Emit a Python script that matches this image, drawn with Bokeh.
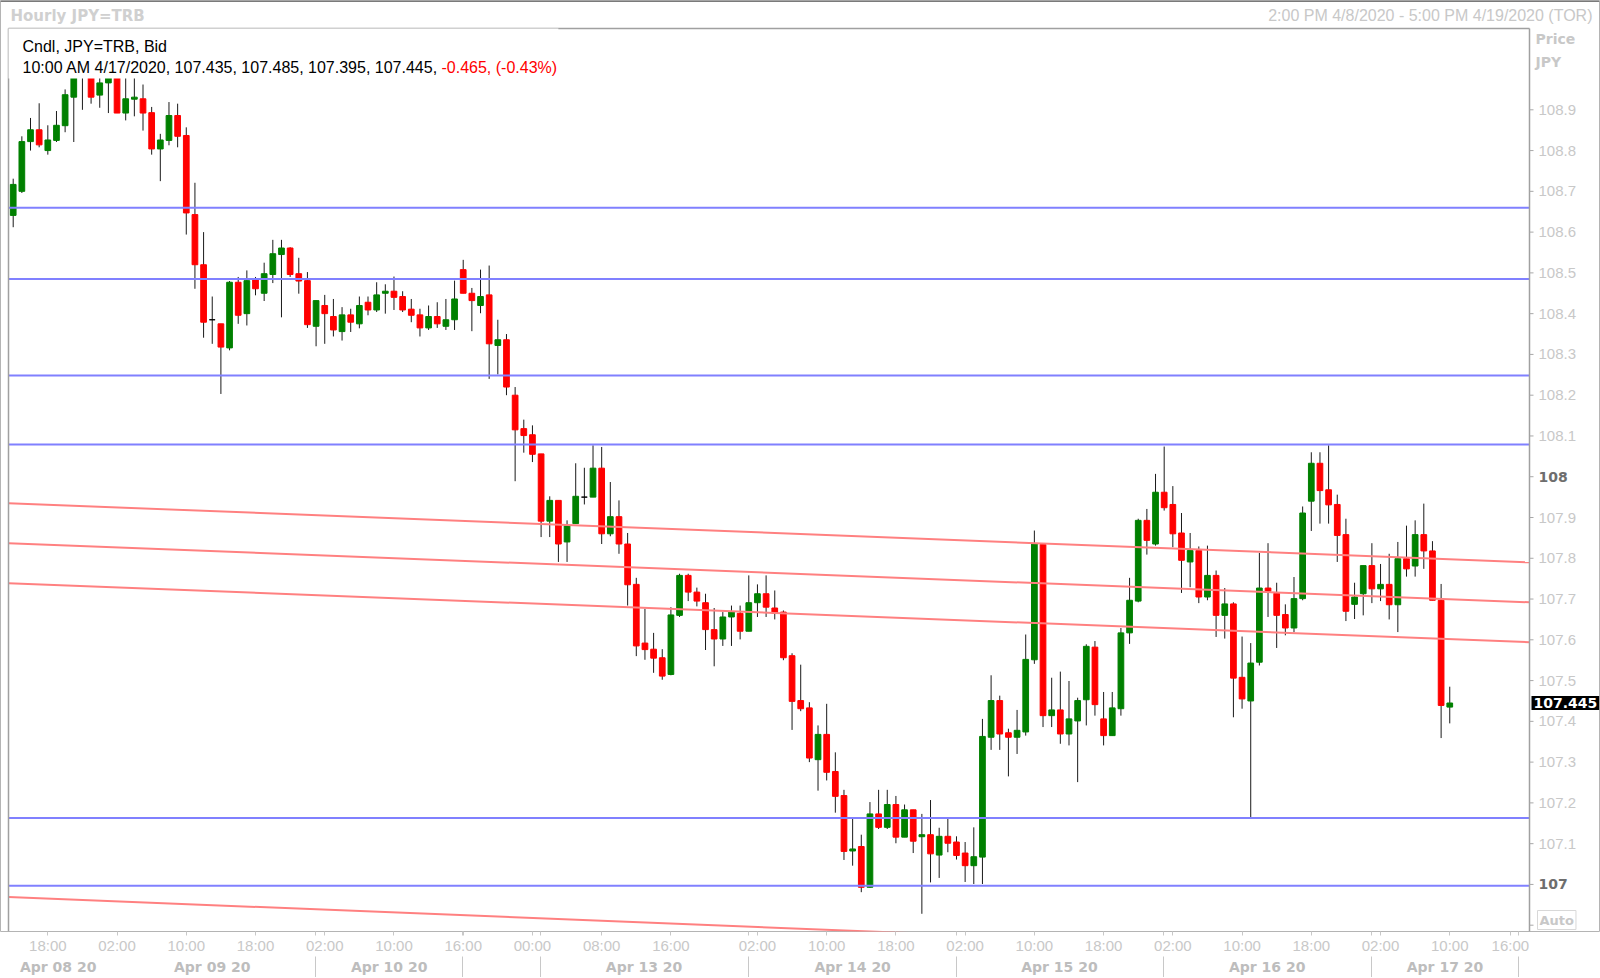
from bokeh.plotting import figure
from bokeh.models import Range1d, LinearAxis, FixedTicker, Label, BoxAnnotation, ColumnDataSource
from bokeh.core.properties import value
from bokeh.embed import file_html
from bokeh.resources import INLINE

# ---------------- data (hourly JPY=TRB candles, 14:00 Apr 08 .. 10:00 Apr 17) ----------------
opens = [108.641, 108.700, 108.822, 108.851, 108.800, 108.825, 108.861, 108.931, 109.000, 109.020,
         108.936, 108.966, 108.990, 108.892, 108.926, 108.927, 108.893, 108.804, 108.825, 108.886,
         108.837, 108.643, 108.520, 108.385, 108.375, 108.316, 108.477, 108.400, 108.483, 108.450,
         108.496, 108.545, 108.561, 108.498, 108.481, 108.369, 108.420, 108.393, 108.356, 108.397,
         108.375, 108.428, 108.409, 108.450, 108.455, 108.442, 108.411, 108.397, 108.365, 108.393,
         108.369, 108.385, 108.508, 108.450, 108.420, 108.446, 108.322, 108.336, 108.200, 108.118,
         108.103, 108.056, 107.891, 107.942, 107.840, 107.885, 107.950, 107.950, 108.021, 107.860,
         107.902, 107.835, 107.736, 107.592, 107.577, 107.556, 107.515, 107.660, 107.758, 107.717,
         107.691, 107.625, 107.602, 107.656, 107.665, 107.621, 107.691, 107.713, 107.678, 107.668,
         107.561, 107.451, 107.433, 107.306, 107.368, 107.277, 107.218, 107.082, 107.093, 106.993,
         107.173, 107.140, 107.196, 107.116, 107.183, 107.117, 107.122, 107.072, 107.118, 107.104,
         107.077, 107.046, 107.067, 107.361, 107.451, 107.372, 107.361, 107.374, 107.551, 107.834,
         107.414, 107.428, 107.369, 107.401, 107.453, 107.582, 107.406, 107.365, 107.431, 107.617,
         107.695, 107.893, 107.835, 107.962, 107.932, 107.862, 107.791, 107.819, 107.705, 107.758,
         107.660, 107.688, 107.508, 107.450, 107.545, 107.727, 107.714, 107.662, 107.629, 107.701,
         107.940, 108.033, 107.968, 107.932, 107.858, 107.687, 107.713, 107.782, 107.725, 107.736,
         107.686, 107.799, 107.781, 107.858, 107.818, 107.697, 107.435]
highs = [108.731, 108.835, 108.880, 108.916, 108.862, 108.897, 108.950, 109.030, 109.060, 109.050,
         108.980, 109.030, 109.010, 108.980, 108.980, 108.962, 108.907, 108.841, 108.919, 108.915,
         108.857, 108.721, 108.600, 108.442, 108.375, 108.480, 108.490, 108.506, 108.490, 108.525,
         108.581, 108.581, 108.563, 108.537, 108.502, 108.432, 108.446, 108.436, 108.416, 108.412,
         108.442, 108.442, 108.477, 108.472, 108.491, 108.455, 108.436, 108.412, 108.420, 108.428,
         108.436, 108.481, 108.532, 108.463, 108.508, 108.518, 108.385, 108.350, 108.220, 108.140,
         108.126, 108.056, 107.952, 107.942, 107.893, 108.033, 108.022, 108.077, 108.073, 107.987,
         107.942, 107.862, 107.752, 107.676, 107.617, 107.577, 107.680, 107.762, 107.762, 107.728,
         107.713, 107.678, 107.668, 107.684, 107.684, 107.758, 107.736, 107.758, 107.721, 107.672,
         107.567, 107.539, 107.447, 107.390, 107.443, 107.324, 107.232, 107.161, 107.122, 107.202,
         107.232, 107.232, 107.217, 107.196, 107.183, 107.173, 107.207, 107.139, 107.161, 107.118,
         107.104, 107.140, 107.406, 107.513, 107.463, 107.382, 107.428, 107.613, 107.868, 107.834,
         107.507, 107.522, 107.499, 107.458, 107.589, 107.597, 107.472, 107.472, 107.629, 107.752,
         107.897, 107.921, 108.007, 108.074, 107.977, 107.911, 107.862, 107.829, 107.831, 107.770,
         107.727, 107.692, 107.608, 107.592, 107.813, 107.837, 107.740, 107.687, 107.754, 107.927,
         108.060, 108.060, 108.077, 107.956, 107.897, 107.740, 107.782, 107.837, 107.786, 107.811,
         107.840, 107.880, 107.893, 107.934, 107.842, 107.737, 107.485]
lows = [108.612, 108.696, 108.800, 108.808, 108.790, 108.821, 108.845, 108.821, 108.900, 108.915,
        108.905, 108.892, 108.892, 108.874, 108.884, 108.849, 108.790, 108.725, 108.813, 108.808,
        108.594, 108.461, 108.341, 108.326, 108.203, 108.310, 108.375, 108.371, 108.445, 108.431,
        108.475, 108.391, 108.490, 108.449, 108.365, 108.320, 108.326, 108.344, 108.334, 108.355,
        108.364, 108.396, 108.404, 108.400, 108.409, 108.404, 108.379, 108.344, 108.360, 108.365,
        108.360, 108.360, 108.450, 108.357, 108.401, 108.240, 108.251, 108.200, 107.989, 108.059,
        108.036, 107.852, 107.852, 107.791, 107.791, 107.885, 107.932, 107.950, 107.835, 107.854,
        107.811, 107.684, 107.560, 107.551, 107.519, 107.502, 107.513, 107.656, 107.695, 107.682,
        107.575, 107.535, 107.585, 107.585, 107.601, 107.621, 107.656, 107.656, 107.650, 107.550,
        107.379, 107.425, 107.300, 107.230, 107.255, 107.176, 107.060, 107.046, 106.981, 106.992,
        107.136, 107.136, 107.101, 107.116, 107.077, 106.928, 107.005, 107.016, 107.079, 107.061,
        107.006, 107.001, 107.001, 107.330, 107.330, 107.265, 107.320, 107.365, 107.541, 107.386,
        107.386, 107.345, 107.341, 107.251, 107.390, 107.414, 107.341, 107.365, 107.414, 107.590,
        107.692, 107.809, 107.831, 107.917, 107.827, 107.715, 107.729, 107.690, 107.697, 107.607,
        107.603, 107.410, 107.431, 107.165, 107.537, 107.656, 107.580, 107.611, 107.619, 107.697,
        107.867, 107.885, 107.885, 107.791, 107.646, 107.651, 107.660, 107.690, 107.695, 107.650,
        107.619, 107.755, 107.755, 107.774, 107.697, 107.359, 107.395]
closes = [108.717, 108.822, 108.851, 108.814, 108.826, 108.862, 108.937, 109.000, 109.030, 108.931,
          108.966, 108.990, 108.892, 108.927, 108.931, 108.892, 108.804, 108.826, 108.886, 108.835,
          108.647, 108.520, 108.379, 108.385, 108.318, 108.477, 108.396, 108.481, 108.461, 108.498,
          108.547, 108.561, 108.496, 108.480, 108.373, 108.432, 108.400, 108.360, 108.397, 108.379,
          108.420, 108.409, 108.446, 108.455, 108.440, 108.409, 108.396, 108.365, 108.393, 108.375,
          108.385, 108.436, 108.450, 108.432, 108.442, 108.326, 108.336, 108.220, 108.115, 108.101,
          108.055, 107.891, 107.942, 107.835, 107.880, 107.952, 107.950, 108.021, 107.860, 107.902,
          107.835, 107.735, 107.585, 107.576, 107.555, 107.511, 107.661, 107.758, 107.717, 107.695,
          107.625, 107.602, 107.656, 107.668, 107.621, 107.691, 107.713, 107.680, 107.665, 107.556,
          107.449, 107.431, 107.310, 107.368, 107.275, 107.216, 107.081, 107.087, 106.993, 107.173,
          107.140, 107.196, 107.116, 107.183, 107.106, 107.122, 107.075, 107.118, 107.101, 107.071,
          107.046, 107.068, 107.363, 107.451, 107.369, 107.361, 107.378, 107.552, 107.835, 107.414,
          107.428, 107.369, 107.406, 107.451, 107.584, 107.441, 107.365, 107.433, 107.617, 107.697,
          107.893, 107.844, 107.962, 107.924, 107.860, 107.795, 107.819, 107.705, 107.758, 107.660,
          107.688, 107.506, 107.455, 107.543, 107.727, 107.719, 107.660, 107.629, 107.701, 107.911,
          108.033, 107.966, 107.931, 107.856, 107.670, 107.705, 107.782, 107.725, 107.736, 107.686,
          107.799, 107.774, 107.858, 107.818, 107.697, 107.439, 107.445]

# horizontal support / resistance levels (blue)
support_levels = [108.66, 108.485, 108.248, 108.079, 107.163, 106.997]
# sloping channel lines (red): price at the left and at the right edge of the plot area
channel_start = [107.935, 107.837, 107.739, 106.969]
channel_end = [107.790, 107.692, 107.594, 106.820]

# x axis (slot index of each hourly candle)
time_ticks = [5, 13, 21, 29, 37, 45, 53, 61, 69, 77, 87, 95, 103, 111, 119, 127, 135, 143, 151, 159, 167, 174]
time_labels = ["18:00", "02:00", "10:00", "18:00", "02:00", "10:00", "16:00", "00:00", "08:00", "16:00",
               "02:00", "10:00", "18:00", "02:00", "10:00", "18:00", "02:00", "10:00", "18:00", "02:00",
               "10:00", "16:00"]
day_separators = [35.97, 52.9, 61.9, 85.97, 109.96, 133.9, 157.9, 175.0]
day_centers = [6.2, 24.0, 44.45, 73.9, 98.0, 121.9, 145.9, 166.45]
day_labels = ["Apr 08 20", "Apr 09 20", "Apr 10 20", "Apr 13 20", "Apr 14 20", "Apr 15 20", "Apr 16 20", "Apr 17 20"]

# price axis
price_ticks = [round(106.9 + 0.1 * i, 1) for i in range(21)]
price_bold = [107.0, 108.0]
price_hidden = [106.9]

# ---------------- geometry ----------------
W, FH = 1599, 931            # frame = whole widget above the time axis
SLOT = 8.654                  # px per hourly slot
PX0 = 12.7                    # px of slot 1
PPU = 407.7                   # px per 1 JPY
def sx(px):   # page px -> slot coordinate
    return (px - PX0) / SLOT + 1
def py(pix):  # page px -> price
    return 108.9 - (pix - 109.3) / PPU

X0, X1 = sx(0), sx(W)
Y0, Y1 = py(FH), py(0)
PL, PR, PT = sx(8), sx(1529), py(28)   # plot-area borders

p = figure(frame_width=W, frame_height=FH, x_range=Range1d(X0, X1), y_range=Range1d(Y0, Y1),
           output_backend="svg", toolbar_location=None, x_axis_location=None, y_axis_location=None,
           min_border_left=0, min_border_right=1, min_border_top=0, min_border_bottom=45)
p.grid.visible = False
p.outline_line_color = "#B4B4B4"
p.outline_line_width = 1
p.background_fill_color = "white"
p.border_fill_color = "white"

REG = "Liberation Sans"
BOLD = "DejaVu Sans"
GRAY = "#C8C8C8"

# bottom time axis
xax = LinearAxis(ticker=FixedTicker(ticks=time_ticks, minor_ticks=day_separators),
                 major_label_overrides={t: l for t, l in zip(time_ticks, time_labels)})
xax.axis_line_color = None
xax.major_tick_out = 4
xax.major_tick_in = 0
xax.minor_tick_out = 4
xax.minor_tick_in = 0
xax.major_tick_line_color = "#C8C8C8"
xax.minor_tick_line_color = "#C8C8C8"
xax.major_label_text_color = GRAY
xax.major_label_text_font = REG
xax.major_label_text_font_size = "15px"
xax.major_label_standoff = 1
p.add_layout(xax, "below")

# bottom date axis with day separators
dax = LinearAxis(ticker=FixedTicker(ticks=day_centers, minor_ticks=day_separators),
                 major_label_overrides={t: l for t, l in zip(day_centers, day_labels)})
dax.axis_line_color = None
dax.major_tick_out = 0
dax.major_tick_in = 0
dax.minor_tick_out = 22
dax.minor_tick_in = 0
dax.minor_tick_line_color = "#C8C8C8"
dax.major_label_text_color = "#BDBDBD"
dax.major_label_text_font = BOLD
dax.major_label_text_font_style = "bold"
dax.major_label_text_font_size = "14px"
dax.major_label_standoff = -20
p.add_layout(dax, "below")

# ---------------- candles ----------------
n = len(opens)
xs = list(range(1, n + 1))
colors = ["#008000" if c > o else ("#FF0000" if c < o else "#000000") for o, c in zip(opens, closes)]
src = ColumnDataSource(dict(x=xs, o=opens, h=highs, l=lows, c=closes,
                            top=[max(o, c) for o, c in zip(opens, closes)],
                            bottom=[min(o, c) for o, c in zip(opens, closes)],
                            color=colors))
p.segment(x0="x", y0="l", x1="x", y1="h", source=src, line_color="#1A1A1A", line_width=1)
p.vbar(x="x", width=0.66, top="top", bottom="bottom", source=src,
       fill_color="color", line_color="color", line_width=1)

# ---------------- drawn lines ----------------
p.segment(x0=[PL] * len(support_levels), x1=[PR] * len(support_levels),
          y0=support_levels, y1=support_levels, line_color="#8080FF", line_width=2)
p.multi_line(xs=[[PL, PR]] * len(channel_start),
             ys=[[s, e] for s, e in zip(channel_start, channel_end)],
             line_color="#FF8080", line_width=2)

# ---------------- legend cover (opaque header box) ----------------
p.add_layout(BoxAnnotation(left=PL, right=64, bottom=py(78), top=PT,
                           fill_color="white", fill_alpha=1.0, line_color=None))

# ---------------- widget top edge, plot-area border + right price scale ----------------
p.segment(x0=[X0], x1=[X1], y0=[py(0.8)], y1=[py(0.8)], line_color="#7A7A7A", line_width=1.6)
p.multi_line(xs=[[PL, PL], [PL, PR], [PR, PR]], ys=[[Y0, PT], [PT, PT], [PT, Y0]],
             line_color="#A0A0A0", line_width=1.5)
tick_len = 4 / SLOT
p.segment(x0=[PR] * len(price_ticks), x1=[PR + tick_len] * len(price_ticks),
          y0=price_ticks, y1=price_ticks, line_color="#A8A8A8", line_width=1)
reg_ticks = [t for t in price_ticks if t not in price_bold and t not in price_hidden]
p.text(x=[sx(1538)] * len(reg_ticks), y=reg_ticks, text=["%.1f" % t for t in reg_ticks],
       text_font=value(REG), text_font_size=value("15px"), text_color=GRAY,
       text_baseline="middle", text_align="left")
p.text(x=[sx(1538)] * len(price_bold), y=price_bold, text=["%d" % t for t in price_bold],
       text_font=value(BOLD), text_font_size=value("14px"), text_font_style="bold",
       text_color="#6E6E6E", text_baseline="middle", text_align="left")


def lab(text, x, y, xu="screen", yu="screen", padding=None, **kw):
    d = dict(text_font=REG, text_font_size="16px", text_baseline="middle", text_color="#000000")
    d.update(kw)
    lbl = Label(x=x, y=y, x_units=xu, y_units=yu, text=text, **d)
    if padding is not None and "padding" in lbl.properties():
        lbl.padding = padding
    p.add_layout(lbl)
    return lbl

# header (screen units relative to the frame bottom-left == widget bottom-left)
lab("Cndl, JPY=TRB, Bid", 22, FH - 46)
row2 = "10:00 AM 4/17/2020, %.3f, %.3f, %.3f, %.3f," % (opens[-1], highs[-1], lows[-1], closes[-1])
lab(row2, 22, FH - 67)
lab("-0.465, (-0.43%)", 441, FH - 67, text_color="#FF0000")

# widget title row
lab("Hourly JPY=TRB", 10, FH - 15, text_font=BOLD, text_font_style="bold", text_font_size="15px",
    text_color="#D0D0D0")
lab("2:00 PM 4/8/2020 - 5:00 PM 4/19/2020 (TOR)", 1592, FH - 15, text_align="right", text_color="#C8C8C8")

# price scale header, last price and Auto button
lab("Price", 1535, FH - 38, text_font=BOLD, text_font_style="bold", text_font_size="14px", text_color=GRAY)
lab("JPY", 1535, FH - 61, text_font=BOLD, text_font_style="bold", text_font_size="14px", text_color=GRAY)
lab("%.3f" % closes[-1], sx(1531), closes[-1], xu="data", yu="data", padding=2,
    text_font=BOLD, text_font_style="bold", text_font_size="14px", text_color="#FFFFFF",
    background_fill_color="#000000")
lab("Auto", 1537, 2, padding=2, text_baseline="bottom", text_font=BOLD, text_font_style="bold",
    text_font_size="13px", text_color=GRAY, border_line_color="#D8D8D8", background_fill_color="#FFFFFF")

open("out.html", "w").write(file_html(p, INLINE))
